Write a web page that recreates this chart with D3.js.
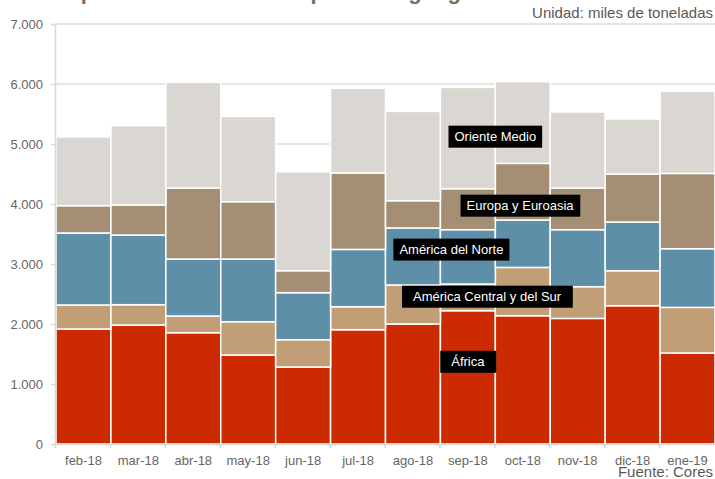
<!DOCTYPE html>
<html lang="es">
<head>
<meta charset="utf-8">
<title>Importaciones de crudo</title>
<script src="https://d3js.org/d3.v7.min.js"></script>
<style>
  body { margin: 0; background: #fff; }
  svg { display: block; font-family: "Liberation Sans", Arial, sans-serif; }
</style>
</head>
<body>
<div id="chart"></div>
<script>
// Data (miles de toneladas)
const months = ["feb-18", "mar-18", "abr-18", "may-18", "jun-18", "jul-18", "ago-18", "sep-18", "oct-18", "nov-18", "dic-18", "ene-19"];
const regions = ["África", "América Central y del Sur", "América del Norte", "Europa y Euroasia", "Oriente Medio"];
const africa   = [1917, 1983, 1855, 1483, 1283, 1905, 2000, 2222, 2138, 2093, 2305, 1517];
const centralSur = [400, 339, 278, 555, 455, 383, 650, 445, 805, 529, 583, 760];
const norte    = [1200, 1161, 950, 1045, 784, 955, 950, 905, 790, 950, 812, 978];
const europa   = [455, 500, 1184, 955, 366, 1274, 455, 683, 944, 695, 800, 1255];
const oriente  = [1145, 1322, 1760, 1422, 1650, 1410, 1488, 1688, 1361, 1266, 917, 1367];
const yTicks = [0, 1000, 2000, 3000, 4000, 5000, 6000, 7000];

// label anchors: month index (fractional) and value
const labelMonth = [7.5, 7.85, 7.2, 8.45, 8.0];
const labelValue = [1370, 2455, 3240, 3972, 5122];

const width = 715, height = 479;
const margin = { top: 24, right: 0, bottom: 35, left: 56 };

const colors = ["#cc2a00", "#c29e77", "#5e8fa9", "#a58f74", "#dad7d2"];
const series = [africa, centralSur, norte, europa, oriente];

const rows = months.map((m, i) => {
  const r = { month: m };
  regions.forEach((g, k) => r[g] = series[k][i]);
  return r;
});
const stacked = d3.stack().keys(regions)(rows);

const svg = d3.select("#chart").append("svg")
  .attr("width", width)
  .attr("height", height);

const x = d3.scaleBand()
  .domain(months)
  .range([margin.left, width - margin.right])
  .padding(0);

const y = d3.scaleLinear()
  .domain([0, 7000])
  .range([height - margin.bottom, margin.top]);

const fmt = d3.format(",.0f");
const esFmt = v => fmt(v).replace(/,/g, ".");

// Title (cut off at the top in the original)
svg.append("text")
  .attr("x", 55)
  .attr("y", -1)
  .attr("font-size", 22)
  .attr("font-weight", "bold")
  .attr("fill", "#7a705e")
  .text("Importaciones de crudo por zona geográfica");

// Gridlines
svg.append("g")
  .selectAll("line")
  .data(yTicks.filter(d => d > 0))
  .join("line")
  .attr("x1", margin.left)
  .attr("x2", width)
  .attr("y1", d => y(d))
  .attr("y2", d => y(d))
  .attr("stroke", "#dddddd")
  .attr("stroke-width", 1.5);

// Bars
svg.append("g")
  .selectAll("g")
  .data(stacked)
  .join("g")
  .attr("fill", (d, i) => colors[i])
  .selectAll("rect")
  .data(d => d)
  .join("rect")
  .attr("x", d => x(d.data.month))
  .attr("y", d => y(d[1]))
  .attr("width", x.bandwidth())
  .attr("height", d => y(d[0]) - y(d[1]))
  .attr("stroke", "#fff")
  .attr("stroke-width", 1.5);

// Y axis
const yAxis = svg.append("g")
  .attr("transform", `translate(${margin.left - 1},0)`)
  .call(d3.axisLeft(y).tickValues(yTicks).tickSize(4).tickPadding(8).tickFormat(esFmt));
yAxis.select(".domain").attr("stroke", "#d9d9d9").attr("stroke-width", 1.5);
yAxis.selectAll(".tick line").attr("stroke", "#d9d9d9").attr("stroke-width", 1.5);
yAxis.selectAll(".tick text")
  .attr("font-size", 13)
  .attr("fill", "#666")
  .attr("font-family", "Liberation Sans, Arial, sans-serif");

// X axis
const xAxis = svg.append("g")
  .attr("transform", `translate(0,${height - margin.bottom})`)
  .call(d3.axisBottom(x).tickSize(0).tickPadding(12));
xAxis.select(".domain").attr("stroke", "#d9d9d9").attr("stroke-width", 1.5);
xAxis.selectAll(".tick text")
  .attr("font-size", 13)
  .attr("fill", "#666")
  .attr("font-family", "Liberation Sans, Arial, sans-serif");

// tick marks between months
svg.append("g")
  .selectAll("line")
  .data(months)
  .join("line")
  .attr("x1", d => x(d) - 0.5)
  .attr("x2", d => x(d) - 0.5)
  .attr("y1", height - margin.bottom)
  .attr("y2", height - margin.bottom + 4)
  .attr("stroke", "#d9d9d9")
  .attr("stroke-width", 1.5);

// Region labels
const labels = svg.append("g");
regions.forEach((name, i) => {
  const cx = margin.left + labelMonth[i] * x.step();
  const cy = y(labelValue[i]);
  const g = labels.append("g");
  const t = g.append("text")
    .attr("x", cx)
    .attr("y", cy)
    .attr("text-anchor", "middle")
    .attr("dominant-baseline", "central")
    .attr("font-size", 13)
    .attr("fill", "#fff")
    .text(name);
  const bb = t.node().getBBox();
  const pad = i === 0 || i === 1 ? 11 : 6;
  g.insert("rect", "text")
    .attr("x", bb.x - pad)
    .attr("y", cy - 11)
    .attr("width", bb.width + pad * 2)
    .attr("height", 22)
    .attr("fill", "#000");
});

// Notes
svg.append("text")
  .attr("x", 713)
  .attr("y", 18)
  .attr("text-anchor", "end")
  .attr("font-size", 15)
  .attr("fill", "#595959")
  .text("Unidad: miles de toneladas");

svg.append("text")
  .attr("x", 713)
  .attr("y", 477)
  .attr("text-anchor", "end")
  .attr("font-size", 15)
  .attr("fill", "#595959")
  .text("Fuente: Cores");
</script>
</body>
</html>
